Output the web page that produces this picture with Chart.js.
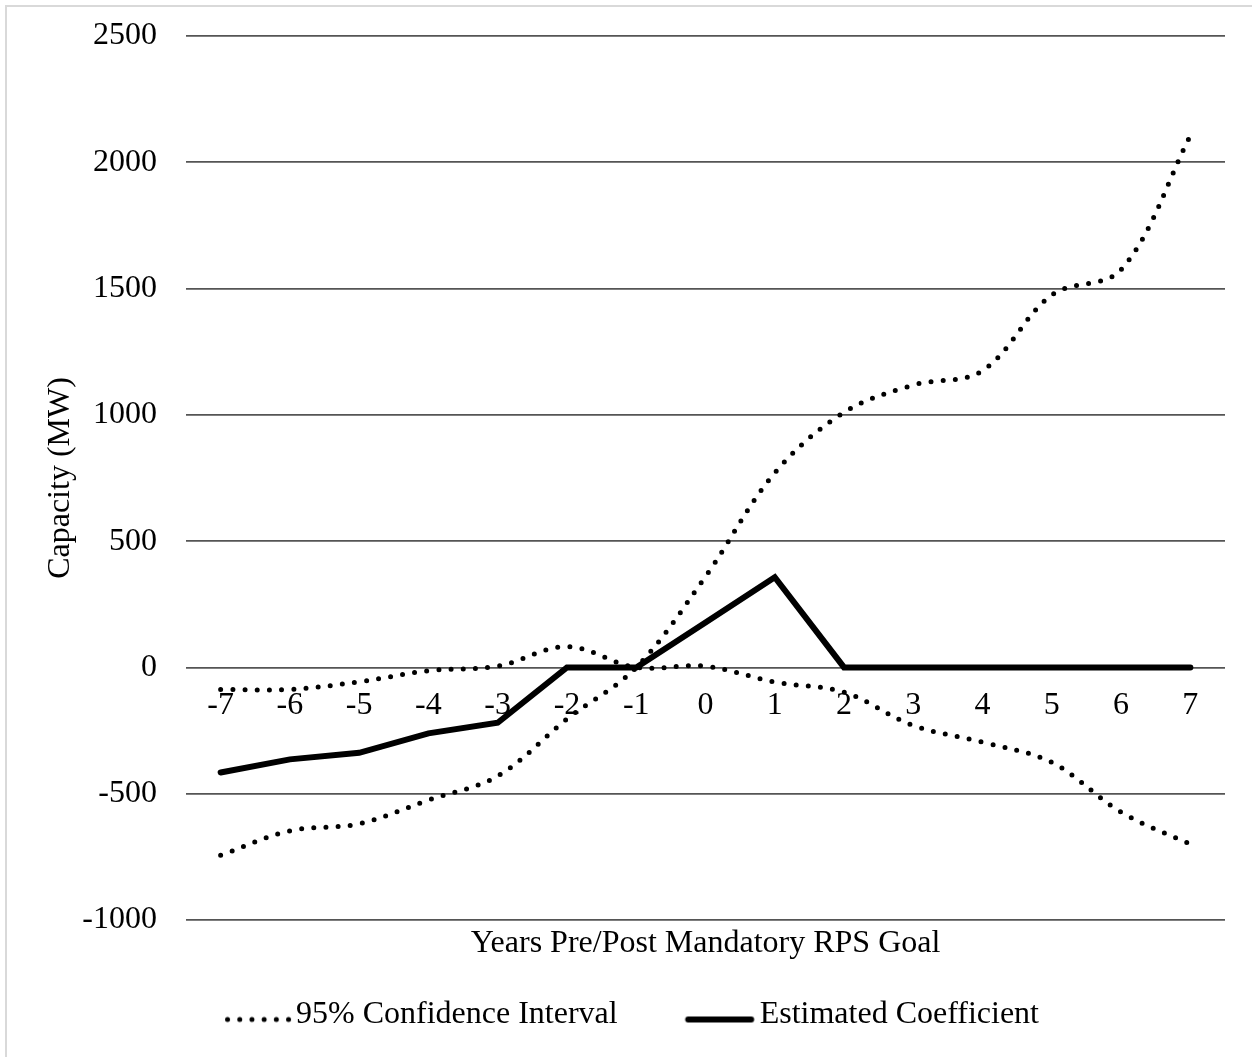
<!DOCTYPE html>
<html>
<head>
<meta charset="utf-8">
<title>Capacity (MW) – Years Pre/Post Mandatory RPS Goal</title>
<script src="https://cdn.jsdelivr.net/npm/chart.js@4.4.1/dist/chart.umd.min.js"></script>
<style>
  html, body { margin: 0; padding: 0; background: #fff; overflow: hidden; }
  #wrap { position: relative; width: 1252px; height: 1057px; }
  #frame { position: absolute; left: 5px; top: 5px; width: 1400px; height: 1200px;
           border: 2px solid #d9d9d9; box-sizing: border-box; }
  #c { position: absolute; left: 0; top: 0; }
</style>
</head>
<body>
<div id="wrap">
  <div id="frame"></div>
  <canvas id="c" width="1252" height="1057"></canvas>
</div>
<script>
// Event-study years relative to the mandatory RPS goal
const years = ['-7', '-6', '-5', '-4', '-3', '-2', '-1', '0', '1', '2', '3', '4', '5', '6', '7'];

// Point estimates (MW)
const coefficient = [-416, -364, -338, -261, -219, 0, 0, 178, 357, 0, 0, 0, 0, 0, 0];

// The two bounds of the 95% confidence interval (MW)
const ciBoundA = [-87, -87, -57, -13, 5, 82, 0, 5, -58, -98, -230, -296, -376, -573, -700];
const ciBoundB = [-744, -647, -619, -525, -430, -204, 0, 360, 770, 1010, 1118, 1175, 1475, 1575, 2105];

// Value axis ticks
const yTicks = [-1000, -500, 0, 500, 1000, 1500, 2000, 2500];

const xTitle = 'Years Pre/Post Mandatory RPS Goal';
const yTitle = 'Capacity (MW)';
const ciLabel = '95% Confidence Interval';
const coefLabel = 'Estimated Coefficient';

Chart.defaults.font.family = "'Liberation Serif', 'Times New Roman', Times, serif";
Chart.defaults.font.size = 32;
Chart.defaults.color = '#000';

// Legend line samples (drawn offset inside a wider image so they sit next to the text)
function lineSample(dotted) {
  const c = document.createElement('canvas');
  c.width = 120; c.height = 24;
  const g = c.getContext('2d');
  g.strokeStyle = '#000';
  g.lineCap = 'round';
  g.beginPath();
  if (dotted) {
    g.lineWidth = 5;
    g.setLineDash([0, 12.2]);
    g.moveTo(54.5, 17); g.lineTo(116.5, 17);
  } else {
    g.lineWidth = 6;
    g.moveTo(51.5, 17); g.lineTo(114.5, 17);
  }
  g.stroke();
  return c;
}
const dottedSample = lineSample(true);
const solidSample = lineSample(false);

const ciStyle = {
  borderColor: '#000', borderWidth: 5, borderDash: [0, 12.2], borderCapStyle: 'round',
  pointRadius: 0, pointHoverRadius: 0, tension: 0.35, fill: false, order: 1
};

new Chart(document.getElementById('c'), {
  type: 'line',
  data: {
    labels: years,
    datasets: [
      Object.assign({ label: ciLabel, data: ciBoundA }, ciStyle),
      Object.assign({ label: ciLabel, data: ciBoundB }, ciStyle),
      {
        label: coefLabel, data: coefficient,
        borderColor: '#000', borderWidth: 6, borderCapStyle: 'round', borderJoinStyle: 'miter',
        pointRadius: 0, pointHoverRadius: 0, tension: 0, fill: false, order: 0
      }
    ]
  },
  options: {
    responsive: false,
    animation: false,
    devicePixelRatio: 1,
    layout: { padding: { left: 0, right: 27, top: 36, bottom: 16.5 } },
    scales: {
      x: {
        type: 'category',
        offset: true,
        position: { y: 0 },
        afterFit: (s) => { s.height = 0; },
        grid: { display: false, drawTicks: false },
        border: { display: false },
        ticks: { padding: 19, maxRotation: 0, minRotation: 0, autoSkip: false, color: '#000' }
      },
      xTitleAxis: {
        type: 'category',
        axis: 'x',
        position: 'bottom',
        afterFit: (s) => { s.height = 46.5; },
        grid: { display: false, drawTicks: false },
        border: { display: false },
        ticks: { display: false },
        title: { display: true, text: xTitle, color: '#000', padding: { top: 0, bottom: 3.8 } }
      },
      y: {
        min: -1000, max: 2500,
        afterBuildTicks: (s) => { s.ticks = yTicks.map(v => ({ value: v })); },
        afterFit: (s) => { s.width = 186; s.paddingTop = 0; s.paddingBottom = 0; },
        grid: { color: '#555', lineWidth: 1.75, drawTicks: false },
        border: { display: false },
        ticks: { padding: 29, color: '#000', callback: (v) => String(v) },
        title: { display: true, text: yTitle, color: '#000', padding: { top: 41, bottom: 0 } }
      }
    },
    plugins: {
      tooltip: { enabled: false },
      legend: {
        position: 'bottom',
        align: 'center',
        labels: {
          usePointStyle: true,
          pointStyleWidth: 94,
          padding: 32,
          color: '#000',
          generateLabels: () => [
            { text: ciLabel, pointStyle: dottedSample, datasetIndex: 0, hidden: false,
              lineWidth: 0, fillStyle: 'rgba(0,0,0,0)', strokeStyle: 'rgba(0,0,0,0)', fontColor: '#000' },
            { text: coefLabel, pointStyle: solidSample, datasetIndex: 2, hidden: false,
              lineWidth: 0, fillStyle: 'rgba(0,0,0,0)', strokeStyle: 'rgba(0,0,0,0)', fontColor: '#000' }
          ]
        }
      }
    }
  }
});
</script>
</body>
</html>
